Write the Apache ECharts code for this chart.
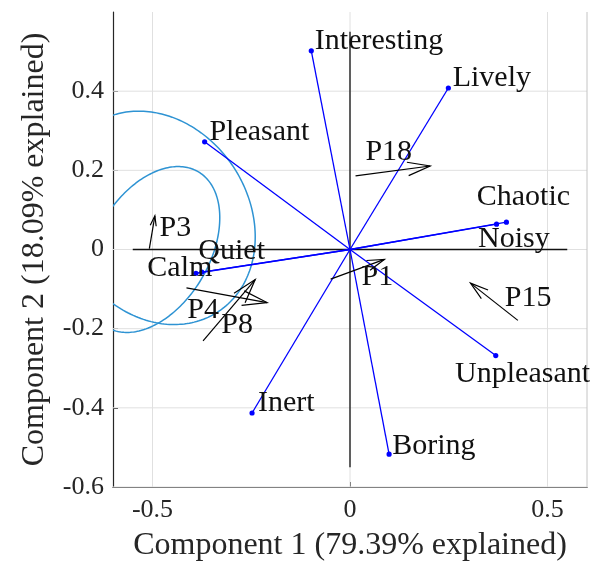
<!DOCTYPE html>
<html><head><meta charset="utf-8">
<script src="https://cdn.jsdelivr.net/npm/echarts@6/dist/echarts.min.js"></script>
<style>html,body{margin:0;padding:0;background:#fff}#c{width:592px;height:569px}</style>
</head><body><div id="c"></div>
<script>
// Variable loadings (blue vectors)
const varNames = ['Interesting','Lively','Pleasant','Chaotic','Noisy','Unpleasant','Boring','Inert','Quiet','Calm'];
const loadX = [-0.098, 0.249, -0.368, 0.396, 0.371, 0.369, 0.099, -0.248, -0.375, -0.390];
const loadY = [0.502, 0.408, 0.272, 0.069, 0.064, -0.268, -0.517, -0.413, -0.057, -0.060];
const varLabelX = [-0.089, 0.260, -0.356, 0.321, 0.324, 0.266, 0.107, -0.233, -0.384, -0.513];
const varLabelY = [0.500, 0.408, 0.272, 0.106, 0.000, -0.340, -0.523, -0.415, -0.030, -0.072];

// Participant arrows (black quiver)
const arrowNames = ['P3','P4','P8','P18','P1','P15'];
const arrowX0 = [-0.508, -0.414, -0.372, 0.014, -0.049, 0.425];
const arrowY0 = [0.002, -0.097, -0.231, 0.186, -0.075, -0.179];
const arrowX1 = [-0.494, -0.210, -0.240, 0.203, 0.087, 0.305];
const arrowY1 = [0.085, -0.134, -0.076, 0.211, -0.025, -0.085];
const arrowLabelX = [-0.482, -0.412, -0.326, 0.039, 0.029, 0.392];
const arrowLabelY = [0.028, -0.179, -0.216, 0.219, -0.096, -0.148];

// Ellipses: centre, semi-axes, rotation (deg)
const ellipseCX = [-0.490, -0.500];
const ellipseCY = [0.080, 0.000];
const ellipseA = [0.284, 0.228];
const ellipseB = [0.2335, 0.1446];
const ellipseAngle = [-56.4, 59.3];

const xTicks = [-0.5, 0, 0.5];
const yTicks = [-0.6, -0.4, -0.2, 0, 0.2, 0.4];
const zeroLineExtent = [-0.55, 0.55];
const axisMin = -0.6, axisMax = 0.6;

const FONT = "'Liberation Serif','Times New Roman',serif";
const chart = echarts.init(document.getElementById('c'), null, {renderer: 'canvas'});

function gridItem(params, api) {
  const ch = [];
  xTicks.forEach(v => {
    const a = api.coord([v, axisMin]), b = api.coord([v, axisMax]);
    ch.push({type: 'line', shape: {x1: a[0], y1: a[1], x2: b[0], y2: b[1]}, style: {stroke: '#e0e0e0', lineWidth: 1}});
  });
  yTicks.forEach(v => {
    const a = api.coord([axisMin, v]), b = api.coord([axisMax, v]);
    ch.push({type: 'line', shape: {x1: a[0], y1: a[1], x2: b[0], y2: b[1]}, style: {stroke: '#e0e0e0', lineWidth: 1}});
  });
  const r0 = api.coord([axisMax, axisMin]), r1 = api.coord([axisMax, axisMax]);
  ch.push({type: 'line', shape: {x1: r0[0], y1: r0[1], x2: r1[0], y2: r1[1]}, style: {stroke: '#c4c4c4', lineWidth: 1}});
  return {type: 'group', children: ch};
}

function zeroItem(params, api) {
  const h0 = api.coord([zeroLineExtent[0], 0]), h1 = api.coord([zeroLineExtent[1], 0]);
  const v0 = api.coord([0, zeroLineExtent[0]]), v1 = api.coord([0, zeroLineExtent[1]]);
  return {type: 'group', children: [
    {type: 'line', shape: {x1: h0[0], y1: h0[1], x2: h1[0], y2: h1[1]}, style: {stroke: '#111', lineWidth: 1.3}},
    {type: 'line', shape: {x1: v0[0], y1: v0[1], x2: v1[0], y2: v1[1]}, style: {stroke: '#111', lineWidth: 1.3}}
  ]};
}

function ellipseItem(params, api) {
  const cx = api.value(0), cy = api.value(1), a = api.value(2), b = api.value(3);
  const th = api.value(4) * Math.PI / 180;
  const pts = [];
  for (let k = 0; k <= 240; k++) {
    const t = 2 * Math.PI * k / 240;
    const x = cx + a * Math.cos(t) * Math.cos(th) - b * Math.sin(t) * Math.sin(th);
    const y = cy + a * Math.cos(t) * Math.sin(th) + b * Math.sin(t) * Math.cos(th);
    pts.push(api.coord([x, y]));
  }
  return {type: 'polyline', shape: {points: pts}, style: {stroke: '#2e93d3', lineWidth: 1.5, fill: null}};
}

function vectorItem(params, api) {
  const o = api.coord([0, 0]);
  const p = api.coord([api.value(0), api.value(1)]);
  return {type: 'group', children: [
    {type: 'line', shape: {x1: o[0], y1: o[1], x2: p[0], y2: p[1]}, style: {stroke: '#0000ff', lineWidth: 1.3}},
    {type: 'circle', shape: {cx: p[0], cy: p[1], r: 2.6}, style: {fill: '#0000ff'}}
  ]};
}

function arrowItem(params, api) {
  const p0 = api.coord([api.value(0), api.value(1)]);
  const p1 = api.coord([api.value(2), api.value(3)]);
  const dx = p1[0] - p0[0], dy = p1[1] - p0[1];
  const L = Math.sqrt(dx * dx + dy * dy);
  const ux = dx / L, uy = dy / L;
  const h = 0.3 * L, w = 0.09 * L;
  const bx = p1[0] - ux * h, by = p1[1] - uy * h;
  const s = {stroke: '#000', lineWidth: 1.2, fill: null};
  return {type: 'group', children: [
    {type: 'line', shape: {x1: p0[0], y1: p0[1], x2: p1[0], y2: p1[1]}, style: s},
    {type: 'polyline', shape: {points: [[bx - uy * w, by + ux * w], p1, [bx + uy * w, by - ux * w]]}, style: s}
  ]};
}

function labelItemFactory(names, size) {
  return function (params, api) {
    const p = api.coord([api.value(0), api.value(1)]);
    return {type: 'text', x: p[0], y: p[1] - 0.34 * size,
      style: {text: names[params.dataIndex], fontFamily: FONT, fontSize: size, fill: '#111', align: 'left', verticalAlign: 'middle'}};
  };
}

const option = {
  animation: false,
  backgroundColor: '#fff',
  grid: {left: 113, right: 5, top: 12, bottom: 82, containLabel: false},
  xAxis: {
    type: 'value', min: axisMin, max: axisMax,
    splitLine: {show: false},
    axisLine: {onZero: false, lineStyle: {color: '#262626', width: 1.2}},
    axisTick: {inside: true, length: 5, customValues: xTicks, lineStyle: {color: '#262626'}},
    axisLabel: {customValues: xTicks, formatter: v => String(v), fontFamily: FONT, fontSize: 26, color: '#262626', margin: 10},
    name: 'Component 1 (79.39% explained)', nameLocation: 'middle', nameGap: 43,
    nameTextStyle: {fontFamily: FONT, fontSize: 32, color: '#262626'}
  },
  yAxis: {
    type: 'value', min: axisMin, max: axisMax,
    splitLine: {show: false},
    axisLine: {onZero: false, lineStyle: {color: '#262626', width: 1.2}},
    axisTick: {inside: true, length: 5, customValues: yTicks, lineStyle: {color: '#262626'}},
    axisLabel: {customValues: yTicks, formatter: v => String(v), fontFamily: FONT, fontSize: 26, color: '#262626', margin: 9},
    name: 'Component 2 (18.09% explained)', nameLocation: 'middle', nameGap: 62,
    nameTextStyle: {fontFamily: FONT, fontSize: 32, color: '#262626'}
  },
  series: [
    {type: 'custom', z: 1, silent: true, renderItem: gridItem, data: [[0, 0]]},
    {type: 'custom', z: 2, silent: true, clip: true, renderItem: ellipseItem,
      dimensions: ['cx', 'cy', 'a', 'b', 'ang'], encode: {x: 0, y: 1},
      data: ellipseCX.map((c, i) => [c, ellipseCY[i], ellipseA[i], ellipseB[i], ellipseAngle[i]])},
    {type: 'custom', z: 3, silent: true, renderItem: zeroItem, data: [[0, 0]]},
    {type: 'custom', z: 4, silent: true, renderItem: vectorItem,
      data: loadX.map((x, i) => [x, loadY[i]])},
    {type: 'custom', z: 4, silent: true, renderItem: arrowItem,
      dimensions: ['x0', 'y0', 'x1', 'y1'], encode: {x: [0, 2], y: [1, 3]},
      data: arrowX0.map((x, i) => [x, arrowY0[i], arrowX1[i], arrowY1[i]])},
    {type: 'custom', z: 5, silent: true, renderItem: labelItemFactory(varNames, 30),
      data: varLabelX.map((x, i) => [x, varLabelY[i]])},
    {type: 'custom', z: 5, silent: true, renderItem: labelItemFactory(arrowNames, 30),
      data: arrowLabelX.map((x, i) => [x, arrowLabelY[i]])}
  ]
};
chart.setOption(option);
</script></body></html>
